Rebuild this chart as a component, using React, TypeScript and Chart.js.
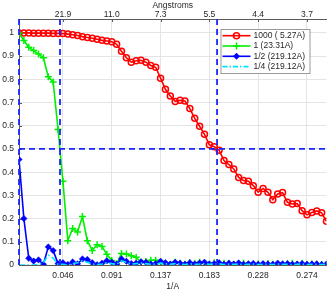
import React, { useEffect, useRef } from 'react';
import { Chart, registerables } from 'chart.js';

Chart.register(...registerables);

// Shell index -> spatial frequency (1/A): first shell is 1/219.12 A
const BOX_RES = 219.12;
const SHELLS = Array.from({ length: 64 }, (_, i) => i + 1);
const TICK_SHELLS = [10, 20, 30, 40, 50, 60];
const Y_MAX = 1.06;
const Y_TICKS = [0, 0.1, 0.2, 0.3, 0.4, 0.5, 0.6, 0.7, 0.8, 0.9, 1];

const FSC_1000 = [
  1.0, 1.0, 1.0, 0.999, 0.999, 0.999, 0.999, 0.998, 0.998, 0.997,
  0.995, 0.992, 0.989, 0.984, 0.98, 0.977, 0.973, 0.968, 0.965, 0.962,
  0.951, 0.921, 0.893, 0.874, 0.88, 0.882, 0.874, 0.86, 0.852, 0.805,
  0.757, 0.728, 0.705, 0.71, 0.707, 0.674, 0.632, 0.598, 0.563, 0.518,
  0.51, 0.494, 0.45, 0.433, 0.414, 0.377, 0.364, 0.361, 0.342, 0.314,
  0.33, 0.313, 0.281, 0.306, 0.312, 0.27, 0.263, 0.265, 0.234, 0.216,
  0.226, 0.233, 0.225, 0.188,
];
const FSC_1 = [
  1.0, 0.967, 0.938, 0.924, 0.909, 0.893, 0.811, 0.789, 0.584, 0.361,
  0.105, 0.157, 0.142, 0.209, 0.105, 0.063, 0.087, 0.08, 0.046, 0.019,
  0.004, 0.05, 0.047, 0.04, 0.033, 0.012, 0.015, 0.02, 0.02, 0.01,
  0.005, 0.002, 0.012, 0.008, 0.003, 0.01, 0.005, 0.012, 0.006, 0.003,
  0.01, 0.004, 0.008, 0.006, 0.002, 0.003, 0.008, 0.003, 0.001, 0.004,
  0.002, 0.006, 0.003, 0.001, 0.002, 0.005, 0.008, 0.002, 0.006, 0.002,
  0.004, 0.003, 0.002, 0.003,
];
const FSC_HALF = [
  0.455, 0.2, 0.029, 0.017, 0.022, 0.003, 0.078, 0.062, 0.006, 0.01,
  0.002, 0.013, 0.005, 0.026, 0.024, 0.01, 0.001, 0.008, 0.018, 0.012,
  0.004, 0.026, 0.016, 0.006, 0.008, 0.014, 0.012, 0.004, 0.006, 0.016,
  0.01, 0.004, 0.012, 0.008, 0.003, 0.01, 0.004, 0.009, 0.012, 0.004,
  0.006, 0.01, 0.003, 0.008, 0.004, 0.009, 0.003, 0.005, 0.007, 0.003,
  0.006, 0.004, 0.003, 0.008, 0.005, 0.006, 0.003, 0.004, 0.006, 0.003,
  0.004, 0.005, 0.002, 0.004,
];
const FSC_QUARTER = [
  0.0, 0.0, 0.0, 0.0, 0.002, 0.01, 0.042, 0.03, 0.002, 0.003,
  0.0, 0.006, 0.01, 0.018, 0.012, 0.004, 0.002, 0.004, 0.01, 0.006,
  0.003, 0.018, 0.012, 0.004, 0.006, 0.008, 0.006, 0.003, 0.004, 0.008,
  0.006, 0.003, 0.006, 0.004, 0.002, 0.005, 0.003, 0.004, 0.006, 0.003,
  0.004, 0.005, 0.002, 0.004, 0.003, 0.004, 0.002, 0.003, 0.004, 0.002,
  0.003, 0.003, 0.002, 0.004, 0.003, 0.003, 0.002, 0.003, 0.004, 0.002,
  0.003, 0.003, 0.002, 0.003,
];

const SERIES_LABELS = ['1000 ( 5.27A)', '1 (23.31A)', '1/2 (219.12A)', '1/4 (219.12A)'];
const RES_MARKERS = [219.12, 23.31, 5.27]; // resolution (A) where FSC crosses 0.5
const THRESHOLD = 0.5;

const FONT = "'Liberation Sans', Arial, Helvetica, sans-serif";
const TEXT = '#262626';
const AXIS = '#5a5a5a';
const GRID = '#e4e4e4';
const DASH_BLUE = 'rgb(25,40,250)';

const STYLES = [
  { color: '#ff0000', marker: 'circle' },
  { color: '#00f000', marker: 'cross' },
  { color: '#0000ff', marker: 'diamond' },
  { color: '#00e5ff', marker: 'none' },
];

function toPoints(vals: number[]) {
  return vals.map((v, i) => ({ x: SHELLS[i] / BOX_RES, y: v }));
}

const xMin = SHELLS[0] / BOX_RES;
const xMax = SHELLS[SHELLS.length - 1] / BOX_RES;

const legendPlugin = {
  id: 'matlabLegend',
  afterDraw(chart: any) {
    const { ctx, chartArea } = chart;
    const lx = chartArea.right - 106;
    const ly = chartArea.top + 10;
    const w = 89;
    const h = 44;
    ctx.save();
    ctx.fillStyle = '#ffffff';
    ctx.fillRect(lx, ly, w, h);
    ctx.strokeStyle = '#9a9a9a';
    ctx.lineWidth = 1;
    ctx.strokeRect(lx + 0.5, ly + 0.5, w, h);
    ctx.font = `8.5px ${FONT}`;
    ctx.textBaseline = 'middle';
    ctx.textAlign = 'left';
    SERIES_LABELS.forEach((label, i) => {
      const y = ly + 6.7 + i * 10.3;
      const st = STYLES[i];
      const x0 = lx + 2;
      const x1 = lx + 30;
      const xm = (x0 + x1) / 2;
      ctx.strokeStyle = st.color;
      ctx.fillStyle = st.color;
      ctx.lineWidth = 1.6;
      ctx.setLineDash(st.marker === 'none' ? [5, 2, 1.5, 2] : []);
      ctx.beginPath();
      ctx.moveTo(x0, y);
      ctx.lineTo(x1, y);
      ctx.stroke();
      ctx.setLineDash([]);
      if (st.marker === 'circle') {
        ctx.beginPath();
        ctx.arc(xm, y, 3, 0, Math.PI * 2);
        ctx.stroke();
      } else if (st.marker === 'cross') {
        ctx.beginPath();
        ctx.moveTo(xm - 3.5, y);
        ctx.lineTo(xm + 3.5, y);
        ctx.moveTo(xm, y - 3.5);
        ctx.lineTo(xm, y + 3.5);
        ctx.stroke();
      } else if (st.marker === 'diamond') {
        ctx.beginPath();
        ctx.moveTo(xm, y - 3.5);
        ctx.lineTo(xm + 3.5, y);
        ctx.lineTo(xm, y + 3.5);
        ctx.lineTo(xm - 3.5, y);
        ctx.closePath();
        ctx.fill();
      }
      ctx.fillStyle = TEXT;
      ctx.fillText(label, lx + 33, y);
    });
    ctx.restore();
  },
};

const innerTicksPlugin = {
  id: 'innerTicks',
  beforeDatasetsDraw(chart: any) {
    const { ctx, chartArea, scales } = chart;
    ctx.save();
    ctx.strokeStyle = AXIS;
    ctx.lineWidth = 1;
    ctx.beginPath();
    scales.x.ticks.forEach((t: any) => {
      const px = Math.round(scales.x.getPixelForValue(t.value)) + 0.5;
      ctx.moveTo(px, chartArea.bottom);
      ctx.lineTo(px, chartArea.bottom - 3);
      ctx.moveTo(px, chartArea.top);
      ctx.lineTo(px, chartArea.top + 3);
    });
    scales.y.ticks.forEach((t: any) => {
      const py = Math.round(scales.y.getPixelForValue(t.value)) + 0.5;
      ctx.moveTo(chartArea.left, py);
      ctx.lineTo(chartArea.left + 3, py);
    });
    ctx.stroke();
    ctx.restore();
  },
};

export default function App() {
  const ref = useRef<HTMLCanvasElement | null>(null);

  useEffect(() => {
    if (!ref.current) return;
    const curves = [FSC_1000, FSC_1, FSC_HALF, FSC_QUARTER];
    const datasets: any[] = curves.map((vals, i) => {
      const st = STYLES[i];
      const base: any = {
        label: SERIES_LABELS[i],
        data: toPoints(vals),
        borderColor: st.color,
        backgroundColor: st.color,
        borderWidth: 1.6,
        tension: 0,
        order: 5 - i,
        xAxisID: 'x',
        yAxisID: 'y',
      };
      if (st.marker === 'circle') {
        Object.assign(base, { pointStyle: 'circle', pointRadius: 3, pointBorderWidth: 1.5, pointBackgroundColor: 'rgba(255,255,255,0)' });
      } else if (st.marker === 'cross') {
        Object.assign(base, { pointStyle: 'cross', pointRadius: 3.5, pointBorderWidth: 1.5 });
      } else if (st.marker === 'diamond') {
        Object.assign(base, { pointStyle: 'rectRot', pointRadius: 3.2, pointBorderWidth: 0.5 });
      } else {
        Object.assign(base, { pointRadius: 0, borderDash: [6, 2.5, 1.5, 2.5] });
      }
      return base;
    });
    const dashStyle = {
      borderColor: DASH_BLUE,
      backgroundColor: DASH_BLUE,
      borderWidth: 1.8,
      borderDash: [6, 4],
      pointRadius: 0,
      order: 0,
      clip: false,
      xAxisID: 'x',
      yAxisID: 'y',
    };
    datasets.push({
      ...dashStyle,
      label: 'threshold',
      data: [{ x: xMin, y: THRESHOLD }, { x: xMax, y: THRESHOLD }],
    });
    RES_MARKERS.forEach((r) => {
      datasets.push({
        ...dashStyle,
        label: 'res ' + r,
        data: [{ x: 1 / r, y: 0 }, { x: 1 / r, y: Y_MAX }],
      });
    });

    const tickFont = { family: FONT, size: 8.5, lineHeight: 1 };
    const chart = new Chart(ref.current, {
      type: 'line',
      data: { datasets },
      plugins: [innerTicksPlugin, legendPlugin],
      options: {
        animation: false,
        responsive: false,
        devicePixelRatio: 1,
        layout: { padding: { left: 0, right: 3, top: 0, bottom: 0 } },
        plugins: { legend: { display: false }, tooltip: { enabled: false } },
        scales: {
          x: {
            type: 'linear',
            position: 'bottom',
            min: xMin,
            max: xMax,
            afterBuildTicks: (s: any) => {
              s.ticks = TICK_SHELLS.map((k) => ({ value: k / BOX_RES }));
            },
            afterFit: (s: any) => {
              s.height = 26;
            },
            ticks: {
              autoSkip: false,
              maxRotation: 0,
              padding: 6,
              color: TEXT,
              font: tickFont,
              callback: (v: any) => Number(v).toFixed(3),
            },
            grid: { color: GRID, drawTicks: false, lineWidth: 1 },
            border: { display: true, color: AXIS, width: 1 },
            title: {
              display: true,
              text: '1/A',
              color: TEXT,
              font: tickFont,
              padding: { top: 0, bottom: 0 },
            },
          },
          x2: {
            type: 'linear',
            position: 'top',
            min: xMin,
            max: xMax,
            afterBuildTicks: (s: any) => {
              s.ticks = TICK_SHELLS.map((k) => ({ value: k / BOX_RES }));
            },
            afterFit: (s: any) => {
              s.height = 19;
            },
            ticks: {
              autoSkip: false,
              maxRotation: 0,
              padding: 0,
              color: TEXT,
              font: tickFont,
              callback: (v: any) => (1 / Number(v)).toFixed(1),
            },
            grid: { display: false, drawTicks: false },
            border: { display: true, color: AXIS, width: 1 },
            title: {
              display: true,
              text: 'Angstroms',
              color: TEXT,
              font: tickFont,
              padding: { top: 1, bottom: 0 },
            },
          },
          y: {
            type: 'linear',
            position: 'left',
            min: 0,
            max: Y_MAX,
            afterBuildTicks: (s: any) => {
              s.ticks = Y_TICKS.map((v) => ({ value: v }));
            },
            afterFit: (s: any) => {
              s.width = 19;
            },
            ticks: {
              padding: 5,
              color: TEXT,
              font: tickFont,
              callback: (v: any) => String(Math.round(Number(v) * 10) / 10),
            },
            grid: { color: GRID, drawTicks: false, lineWidth: 1 },
            border: { display: true, color: AXIS, width: 1 },
          },
        },
      } as any,
    });
    return () => chart.destroy();
  }, []);

  return (
    <canvas
      ref={ref}
      width={332}
      height={291}
      style={{ position: 'fixed', left: 0, top: 0, width: 332, height: 291, background: '#ffffff' }}
    />
  );
}
